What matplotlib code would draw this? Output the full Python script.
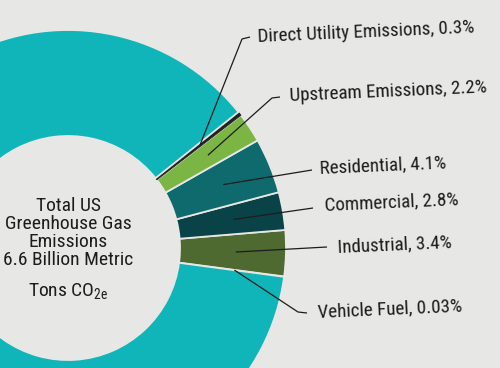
import matplotlib.pyplot as plt
import numpy as np

# slices, counter-clockwise from the bottom of the coloured block
labels = ['Vehicle Fuel', 'Industrial', 'Commercial', 'Residential',
          'Upstream Emissions', 'Direct Utility Emissions', 'Other']
shares = [0.03, 3.4, 2.8, 4.1, 2.2, 0.3, 87.17]
share_text = ['0.03%', '3.4%', '2.8%', '4.1%', '2.2%', '0.3%', None]
colors = ['#0fb5b8', '#4e6a31', '#0a4347', '#0e6a6c', '#7bb544', '#222222',
          '#0fb5b8']

center_lines = ['Total US\nGreenhouse Gas\nEmissions\n6.6 Billion Metric',
                'Tons CO$_{\\mathrm{2e}}$']

W, H = 500, 368
bg = '#e7e7e5'
ink = '#1c1c1c'
font = ['Roboto Condensed', 'DejaVu Sans']
plt.rcParams['mathtext.fontset'] = 'custom'
plt.rcParams['mathtext.rm'] = 'Roboto Condensed'
plt.rcParams['mathtext.it'] = 'Roboto Condensed'

fig = plt.figure(figsize=(5, 3.68), dpi=100, facecolor=bg)
ax = fig.add_axes([0, 0, 1, 1])
ax.set_facecolor(bg)

cx, cy, R = 68, H - 248, 218
wedges, _ = ax.pie(shares, colors=colors, startangle=-7.6, counterclock=True,
                   radius=R, center=(cx, cy),
                   wedgeprops=dict(width=106, edgecolor=bg, linewidth=1.3))
wedges[5].set_edgecolor('#222222')
wedges[5].set_linewidth(0.6)

# leader lines: path after the anchor point, and where the text starts (image px)
leader = [
    ([(298, 312), (307, 313)], (318, 312)),
    ([(327, 247)], (338, 247)),
    ([(313, 208)], (325, 205)),
    ([(312, 170)], (320, 168)),
    ([(272, 98), (280, 97)], (290, 96)),
    ([(242, 39), (250, 37)], (258, 37)),
]

for i, (path, txt) in enumerate(leader):
    w = wedges[i]
    mid = np.radians((w.theta1 + w.theta2) / 2)
    r = 0.77 * R
    xs = [cx + r * np.cos(mid)] + [p[0] for p in path]
    ys = [cy + r * np.sin(mid)] + [H - p[1] for p in path]
    ax.plot(xs, ys, color=ink, lw=0.9, solid_capstyle='butt')
    ax.text(txt[0], H - txt[1], f'{labels[i]}, {share_text[i]}',
            ha='left', va='center', rotation=2.5, rotation_mode='anchor',
            fontsize=13.7, color=ink, family=font)

ax.text(cx, H - 233, center_lines[0], ha='center', va='center', fontsize=14,
        color=ink, family=font, linespacing=1.0)
ax.text(cx, H - 291, center_lines[1], ha='center', va='center', fontsize=14,
        color=ink, family=font)

ax.set_xlim(0, W)
ax.set_ylim(0, H)
ax.set_aspect('auto')
ax.axis('off')

fig.savefig('out.png', dpi=100, facecolor=bg)
